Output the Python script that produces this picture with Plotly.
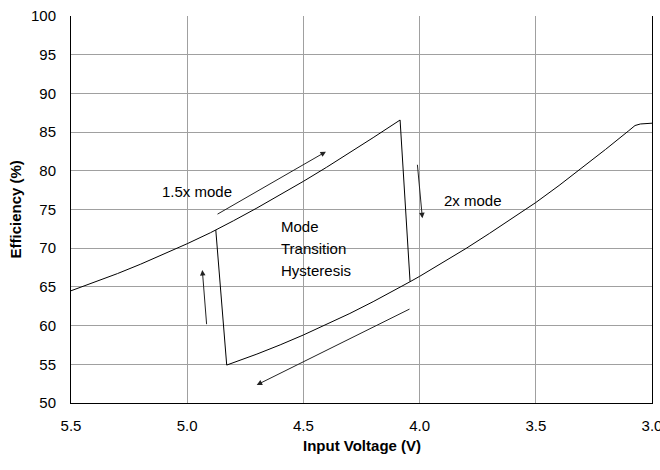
import plotly.graph_objects as go

# Downward sweep: 1.5x mode (upper branch), drop to 2x mode, continue to 3.0 V
v_main = [5.5, 5.4, 5.3, 5.2, 5.1, 5.0, 4.9, 4.877, 4.8, 4.7, 4.6, 4.5, 4.4, 4.3, 4.2, 4.084,
          4.041, 4.0, 3.9, 3.8, 3.7, 3.6, 3.5, 3.4, 3.3, 3.2, 3.1, 3.073, 3.05, 3.0]
eff_main = [64.5, 65.58, 66.72, 67.94, 69.22, 70.58, 72.0, 72.35, 73.56, 75.19, 76.88, 78.64, 80.46, 82.34, 84.28, 86.56,
            65.67, 66.36, 68.13, 69.97, 71.9, 73.9, 75.9, 78.1, 80.4, 82.76, 85.18, 85.85, 86.05, 86.15]

# Upward sweep: 2x mode (lower branch) back to 1.5x mode
v_ret = [4.041, 4.1, 4.2, 4.3, 4.4, 4.5, 4.6, 4.7, 4.83, 4.877]
eff_ret = [65.67, 64.68, 63.09, 61.57, 60.14, 58.79, 57.51, 56.32, 54.9, 72.35]

x_ticks = [5.5, 5.0, 4.5, 4.0, 3.5, 3.0]
x_tick_labels = ["5.5", "5.0", "4.5", "4.0", "3.5", "3.0"]
y_ticks = [50, 55, 60, 65, 70, 75, 80, 85, 90, 95, 100]

# Arrows: (tail_v, tail_eff, head_v, head_eff)
arrows = [
    (4.876, 74.29, 4.403, 82.47),
    (4.010, 80.97, 3.988, 73.86),
    (4.916, 59.99, 4.935, 67.18),
    (4.037, 62.23, 4.701, 52.33),
]

mode_labels = ["1.5x mode", "2x mode"]
mode_label_v = [4.959, 3.770]
mode_label_eff = [77.3, 76.1]

hyst_lines = ["Mode", "Transition", "Hysteresis"]
hyst_v = 4.604
hyst_eff = [72.78, 69.99, 67.18]

FONT = "Liberation Sans, Arial, sans-serif"

fig = go.Figure()
line_style = dict(color="black", width=1)
fig.add_trace(go.Scatter(x=v_main, y=eff_main, mode="lines", line=line_style, hoverinfo="skip"))
fig.add_trace(go.Scatter(x=v_ret, y=eff_ret, mode="lines", line=line_style, hoverinfo="skip"))

for tv, te, hv, he in arrows:
    fig.add_annotation(x=hv, y=he, ax=tv, ay=te, xref="x", yref="y", axref="x", ayref="y",
                       text="", showarrow=True, arrowhead=2, arrowsize=1.1, arrowwidth=1,
                       arrowcolor="#222222", standoff=0, startstandoff=0)

for txt, xv, yv in zip(mode_labels, mode_label_v, mode_label_eff):
    fig.add_annotation(x=xv, y=yv, text=txt, showarrow=False, xref="x", yref="y",
                       font=dict(family=FONT, size=15, color="black"))

for txt, yv in zip(hyst_lines, hyst_eff):
    fig.add_annotation(x=hyst_v, y=yv, text=txt, showarrow=False, xref="x", yref="y",
                       xanchor="left", font=dict(family=FONT, size=15, color="black"))

# Axis titles
fig.add_annotation(x=0.5, y=0, xref="paper", yref="paper", yanchor="middle", yshift=-42,
                   text="<b>Input Voltage (V)</b>", showarrow=False,
                   font=dict(family=FONT, size=15, color="black"))
fig.add_annotation(x=0, y=0.5, xref="paper", yref="paper", xanchor="center", xshift=-56,
                   text="<b>Efficiency (%)</b>", textangle=-90, showarrow=False,
                   font=dict(family=FONT, size=15, color="black"))

fig.update_layout(
    width=660, height=470,
    margin=dict(l=71, r=8, t=16, b=67),
    paper_bgcolor="white", plot_bgcolor="white",
    showlegend=False,
    font=dict(family=FONT, size=15, color="black"),
    xaxis=dict(range=[5.5, 3.0], tickvals=x_ticks, ticktext=x_tick_labels,
               showgrid=True, gridcolor="#a0a0a0", gridwidth=1,
               showline=True, linecolor="black", linewidth=1, mirror=False,
               ticks="outside", ticklen=9, tickcolor="rgba(0,0,0,0)",
               zeroline=False, automargin=False, ticklabeloverflow="allow",
               tickfont=dict(size=15)),
    yaxis=dict(range=[50, 100], tickvals=y_ticks,
               showgrid=True, gridcolor="#a0a0a0", gridwidth=1,
               showline=True, linecolor="black", linewidth=1, mirror=True,
               ticks="outside", ticklen=11, tickcolor="rgba(0,0,0,0)",
               zeroline=False, automargin=False, ticklabeloverflow="allow",
               tickfont=dict(size=15)),
)

fig.write_html("out.html",
               config={"displayModeBar": False, "staticPlot": True},
               post_script="document.body.style.margin='0';document.body.style.overflow='hidden';")
